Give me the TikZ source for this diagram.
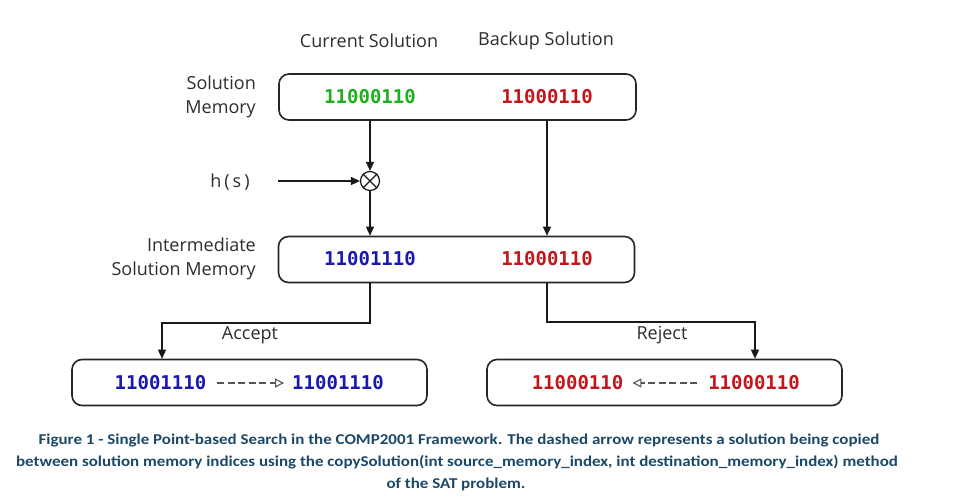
\documentclass[tikz,border=0pt]{standalone}
\usepackage{fontspec}
\setmainfont{Open Sans}
\newfontfamily\codefont{DejaVu Sans Mono}
\newfontfamily\capfont{Carlito}
\usetikzlibrary{arrows.meta}
\definecolor{cgreen}{RGB}{30,175,30}
\definecolor{cred}{RGB}{195,22,28}
\definecolor{cblue}{RGB}{25,25,175}
\definecolor{ctext}{RGB}{45,45,45}
\definecolor{ccap}{RGB}{27,72,102}
\definecolor{cdash}{RGB}{85,85,85}
\newcommand{\capline}[1]{\scalebox{1.13}[1]{#1}}
\tikzset{
  membox/.style={draw=black!85, line width=1.6pt, rounded corners=10pt, minimum height=46pt, inner sep=0pt},
  code/.style={font=\fontsize{19}{21}\selectfont\codefont\bfseries, inner sep=0pt},
  lbl/.style={font=\fontsize{18}{23.5}\selectfont, text=ctext, inner sep=0pt},
  conn/.style={draw=black!90, line width=1.3pt, -{Triangle[length=9pt,width=8pt]}},
  copyarrow/.style={draw=cdash, line width=1.6pt, dash pattern=on 7pt off 3.5pt, -{Triangle[open,length=9pt,width=9pt,line width=1.1pt]}},
  captext/.style={font=\fontsize{15}{17}\selectfont\capfont\bfseries, text=ccap, inner sep=0pt}
}
\begin{document}
\begin{tikzpicture}[x=1pt,y=-1pt]
\useasboundingbox[fill=white] (0,0) rectangle (960,503);

% header labels
\node[lbl] (hcur) at (369,41) {Current Solution};
\node[lbl] (hbak) at (546,41) {Backup Solution};

% solution memory
\node[membox, minimum width=357pt] (top) at (457.5,97) {};
\node[code, text=cgreen] (tcur) at (370,97) {11000110};
\node[code, text=cred] (tbak) at (547,97) {11000110};
\node[lbl, align=right, anchor=east] (lsm) at (256,97) {Solution\\Memory};

% h(s)
\node[circle, draw=black!90, line width=1.2pt, minimum size=19pt, inner sep=0pt] (ox) at (370,181) {};
\draw[black!90, line width=1.2pt] (ox.north west) -- (ox.south east) (ox.north east) -- (ox.south west);
\node[lbl] (hs) at (230,182) {h\,(\,s\,)};
\coordinate (hsstart) at (278,181);

% intermediate memory
\node[membox, minimum width=356pt] (mid) at (456.5,259.5) {};
\node[code, text=cblue] (mcur) at (370,259) {11001110};
\node[code, text=cred] (mbak) at (547,259) {11000110};
\node[lbl, align=right, anchor=east] (lim) at (256,259) {Intermediate\\Solution Memory};

% bottom boxes
\node[membox, minimum width=355pt] (bl) at (249.5,382.5) {};
\node[code, text=cblue] (bla) at (160.5,383) {11001110};
\node[code, text=cblue] (blb) at (338,383) {11001110};
\node[membox, minimum width=355pt] (br) at (664.5,382.5) {};
\node[code, text=cred] (bra) at (577.5,383) {11000110};
\node[code, text=cred] (brb) at (754,383) {11000110};

% connectors
\draw[conn] (top.south -| ox) -- (ox.north);
\draw[conn] (hsstart) -- (ox.west);
\draw[conn] (ox.south) -- (mid.north -| ox);
\draw[conn] (top.south -| tbak) -- (mid.north -| tbak);

\coordinate (acc) at (162,323);
\coordinate (rej) at (755,322);
\draw[conn] (mid.south -| ox) |- (acc) -- (acc |- bl.north);
\draw[conn] (mid.south -| mbak) |- (rej) -- (rej |- br.north);
\node[lbl] (lacc) at (250,335) {Accept};
\node[lbl] (lrej) at (662,335) {Reject};

% copy arrows
\draw[copyarrow] ([xshift=11pt]bla.east) -- ([xshift=-8pt]blb.west);
\draw[copyarrow] ([xshift=-11pt]brb.west) -- ([xshift=9pt]bra.east);

% caption
\node[captext] (c1) at (459,440) {\capline{Figure 1 - Single Point-based Search in the COMP2001 Framework. The dashed arrow represents a solution being copied}};
\node[captext] (c2) at (457,462) {\capline{between solution memory indices using the copySolution(int source\_memory\_index, int destination\_memory\_index) method}};
\node[captext] (c3) at (456,484) {\capline{of the SAT problem.}};
\end{tikzpicture}
\end{document}
